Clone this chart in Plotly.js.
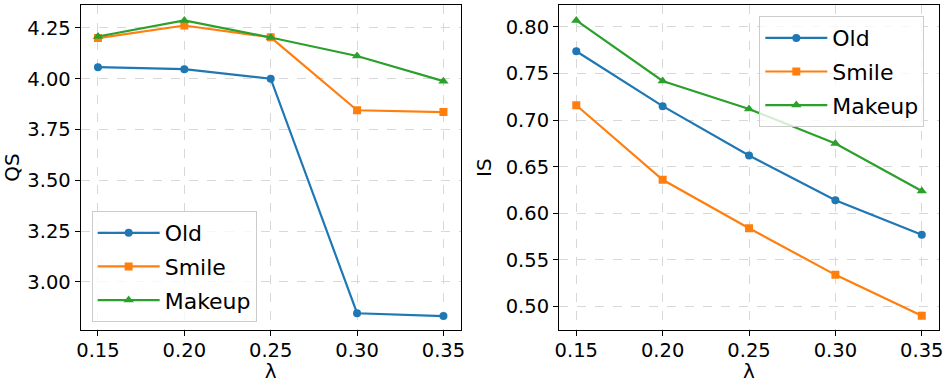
<!DOCTYPE html>
<html>
<head>
<meta charset="utf-8">
<script src="https://cdn.plot.ly/plotly-3.0.1.min.js"></script>
<style>html,body{margin:0;padding:0;background:#fff}#chart{width:947px;height:383px}</style>
</head>
<body>
<div id="chart"></div>
<script>
const lambdas = [0.15, 0.20, 0.25, 0.30, 0.35];
const seriesNames = ["Old", "Smile", "Makeup"];
const qsOld = [4.057, 4.047, 4.00, 2.846, 2.832];
const qsSmile = [4.20, 4.262, 4.204, 3.845, 3.836];
const qsMakeup = [4.208, 4.287, 4.203, 4.112, 3.988];
const isOld = [0.774, 0.715, 0.662, 0.614, 0.577];
const isSmile = [0.716, 0.636, 0.584, 0.534, 0.490];
const isMakeup = [0.807, 0.742, 0.712, 0.675, 0.624];
const xTickVals = [0.15, 0.20, 0.25, 0.30, 0.35];
const qsTickVals = [3.00, 3.25, 3.50, 3.75, 4.00, 4.25];
const isTickVals = [0.50, 0.55, 0.60, 0.65, 0.70, 0.75, 0.80];

const colors = ["#1f77b4", "#ff7f0e", "#2ca02c"];
const symbols = ["circle", "square", "triangle-up"];
const FONT = "DejaVu Sans, sans-serif";

function mk(y, i, xa, ya, leg) {
  return {
    x: lambdas, y: y, name: seriesNames[i], type: "scatter", mode: "lines+markers",
    xaxis: xa, yaxis: ya, legend: leg, legendgroup: leg + i,
    line: {color: colors[i], width: 2.2},
    marker: {color: colors[i], symbol: symbols[i], size: i === 2 ? 9 : 8}
  };
}
const data = [
  mk(qsOld, 0, "x", "y", "legend"), mk(qsSmile, 1, "x", "y", "legend"), mk(qsMakeup, 2, "x", "y", "legend"),
  mk(isOld, 0, "x2", "y2", "legend2"), mk(isSmile, 1, "x2", "y2", "legend2"), mk(isMakeup, 2, "x2", "y2", "legend2")
];

function xax(dom, anchor) {
  return {
    domain: dom, anchor: anchor, range: [0.14, 0.36],
    tickvals: xTickVals, tickformat: ".2f",
    showline: true, mirror: true, linecolor: "#000", linewidth: 1,
    ticks: "outside", ticklen: 5, tickcolor: "#000", ticklabelstandoff: -3,
    showgrid: true, gridcolor: "#d8d8d8", griddash: "dash", gridwidth: 1, zeroline: false,
    tickfont: {family: FONT, size: 19.5, color: "#000"},
    title: {text: "λ", font: {family: FONT, size: 20, color: "#000"}, standoff: 9}
  };
}
function yax(range, vals, title, anchor) {
  return {
    domain: [0.1376, 0.987], anchor: anchor, range: range,
    tickvals: vals, tickformat: ".2f",
    showline: true, mirror: true, linecolor: "#000", linewidth: 1,
    ticks: "outside", ticklen: 5, tickcolor: "#000",
    showgrid: true, gridcolor: "#d8d8d8", griddash: "dash", gridwidth: 1, zeroline: false,
    tickfont: {family: FONT, size: 19.5, color: "#000"},
    title: {text: title, font: {family: FONT, size: 20, color: "#000"}, standoff: 8}
  };
}
function legendCfg(x, y) {
  return {
    x: x, y: y, xanchor: "left", yanchor: "top",
    bgcolor: "rgba(255,255,255,0.8)", bordercolor: "#cccccc", borderwidth: 1,
    font: {family: FONT, size: 22, color: "#000"},
    traceorder: "grouped", tracegroupgap: 2, itemwidth: 62
  };
}

const layout = {
  width: 947, height: 383,
  margin: {l: 0, r: 0, t: 0, b: 0},
  paper_bgcolor: "#fff", plot_bgcolor: "#fff",
  showlegend: true,
  xaxis: xax([0.0852, 0.4865], "y"),
  yaxis: yax([2.762, 4.363], qsTickVals, "QS", "x"),
  xaxis2: xax([0.5903, 0.9916], "y2"),
  yaxis2: yax([0.4745, 0.8236], isTickVals, "IS", "x2"),
  legend: legendCfg(0.0968, 0.449),
  legend2: legendCfg(0.8018, 0.958)
};

Plotly.newPlot("chart", data, layout, {staticPlot: true});
</script>
</body>
</html>
